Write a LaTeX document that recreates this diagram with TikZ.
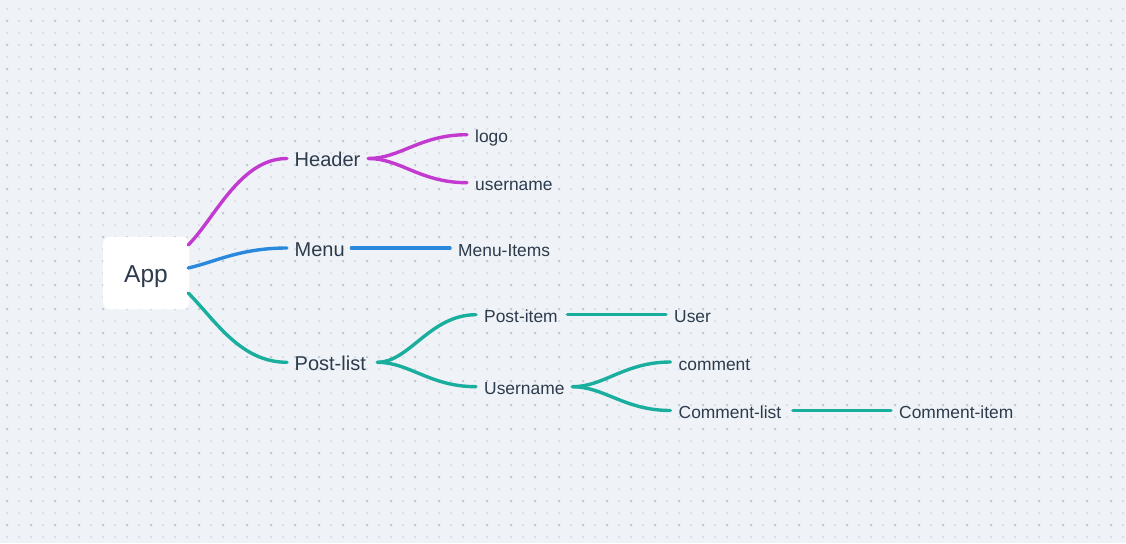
\documentclass[tikz,border=0pt]{standalone}
\usepackage{fontspec}
\setmainfont{Liberation Sans}
\usetikzlibrary{calc}
\definecolor{bg}{HTML}{EFF3F7}
\definecolor{dotlight}{HTML}{DCE0E6}
\definecolor{dotdark}{HTML}{C4C9D2}
\definecolor{ink}{HTML}{2D3B4C}
\definecolor{mag}{HTML}{C23AD0}
\definecolor{blu}{HTML}{2A89DC}
\definecolor{tea}{HTML}{1AAE9F}
\tikzset{
  lbl/.style={anchor=base west, inner xsep=8pt, inner ysep=0pt, text height=16pt, text depth=0pt, text=ink, font=\fontsize{17.4}{20}\selectfont},
  mid/.style={lbl, inner xsep=7.5pt, font=\fontsize{20}{24}\selectfont},
  tw/.style={text width=#1, align=left},
  conn/.style={line width=3.4pt, line cap=round},
  rootbox/.style={fill=white, rounded corners=7pt, minimum width=86pt, minimum height=72.5pt, inner sep=0pt, text height=18pt, text depth=0pt, text=ink, font=\fontsize{24.5}{28}\selectfont}
}
\begin{document}
\begin{tikzpicture}[x=1pt,y=-1pt]
\fill[bg] (0,0) rectangle (1126,543);
\useasboundingbox (0,0) rectangle (1126,543);
\fill[dotlight] \foreach \i in {0,...,93} {\foreach \j in {0,...,44} {(6+12*\i,8+12*\j) rectangle ++(2,2)}};
\fill[dotdark] \foreach \i in {0,...,46} {\foreach \j in {0,...,21} {(6+24*\i,20+24*\j) rectangle ++(2,2)}};

% nodes
\node[rootbox] (app) at (146,273) {App};
\node[mid,tw=66pt] (header) at (287,166.5) {Header};
\node[mid,tw=49pt] (menu) at (287,256) {Menu};
\node[mid,tw=75pt] (postlist) at (287,370.3) {Post-list};
\node[lbl] (logo) at (467,142.7) {logo};
\node[lbl] (username) at (467,190.7) {username};
\node[lbl] (menuitems) at (450,256) {Menu-Items};
\node[lbl,tw=75pt] (postitem) at (476,322.7) {Post-item};
\node[lbl,tw=80pt] (uname) at (476,394.7) {Username};
\node[lbl] (user) at (666,322.7) {User};
\node[lbl] (comment) at (670.5,370) {comment};
\node[lbl,tw=106pt] (commentlist) at (670.5,418.5) {Comment-list};
\node[lbl] (commentitem) at (891,418.5) {Comment-item};

% root connectors
\draw[conn,mag] ($(app.east)+(-1,-28)$) .. controls +(27,-27) and +(-47,0) .. (header.west);
\draw[conn,blu] ($(app.east)+(-1,-5)$) .. controls +(27,-6) and +(-47,0) .. (menu.west);
\draw[conn,tea] ($(app.east)+(-1,20)$) .. controls +(27,27) and +(-47,0) .. (postlist.west);

% header fork
\draw[conn,mag] (header.east) .. controls +(32,0) and +(-47,0) .. (logo.west);
\draw[conn,mag] (header.east) .. controls +(32,0) and +(-47,0) .. (username.west);
% menu
\draw[conn,blu] (menu.east) -- (menuitems.west);
% post-list fork
\draw[conn,tea] (postlist.east) .. controls +(32,0) and +(-46,0) .. (postitem.west);
\draw[conn,tea] (postlist.east) .. controls +(32,0) and +(-46,0) .. (uname.west);
\draw[conn,tea] (postitem.east) -- (user.west);
% username fork
\draw[conn,tea] (uname.east) .. controls +(32,0) and +(-46,0) .. (comment.west);
\draw[conn,tea] (uname.east) .. controls +(32,0) and +(-46,0) .. (commentlist.west);
\draw[conn,tea] (commentlist.east) -- (commentitem.west);
\end{tikzpicture}
\end{document}
